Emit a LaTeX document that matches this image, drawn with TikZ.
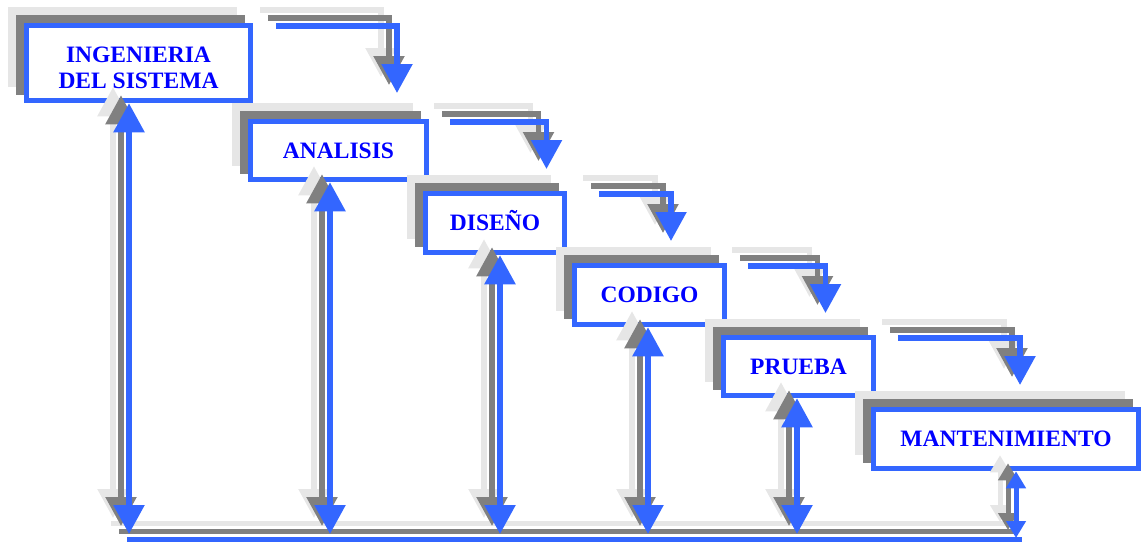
\documentclass[tikz,border=0pt]{standalone}
\usepackage{fontspec}
\setmainfont{Liberation Serif}
\usetikzlibrary{arrows.meta,shadows}

\definecolor{edgeblue}{RGB}{51,102,255}
\definecolor{inkblue}{RGB}{0,0,255}
\definecolor{shadedark}{RGB}{128,128,128}
\definecolor{shadelight}{RGB}{230,230,230}

% each connector is drawn three times: light grey and dark grey copies
% offset up-left, then the blue one on top
\newcommand\stacked[1]{%
  \foreach \off/\col in {16/shadelight,8/shadedark,0/edgeblue}{%
    \begin{scope}[transform canvas={shift={(-\off pt,\off pt)}},color=\col]
      #1
    \end{scope}}}

\tikzset{
  stage/.style={draw=edgeblue, fill=white, line width=5.5pt, inner sep=0pt,
    font=\bfseries\fontsize{23.5}{26}\selectfont, text=inkblue, align=center,
    text height=15.6pt, text depth=0pt,
    general shadow={shadow xshift=-16pt, shadow yshift=16pt,
      fill=shadelight, draw=shadelight},
    general shadow={shadow xshift=-8pt, shadow yshift=8pt,
      fill=shadedark, draw=shadedark}},
  handoff/.style={line width=5.5pt, -{Triangle[width=30pt,length=29pt]}},
  feedback/.style={line width=5.5pt,
    {Triangle[width=30pt,length=29pt]}-{Triangle[width=30pt,length=29pt]}},
  shortfeedback/.style={line width=5pt,
    {Triangle[width=19pt,length=17pt]}-{Triangle[width=19pt,length=17pt]}},
  floorline/.style={line width=5pt},
}

\begin{document}
\begin{tikzpicture}[x=1pt,y=-1pt]
\useasboundingbox (0,0) rectangle (1142,541);

% hand-off points between consecutive stages
\coordinate (s1) at (276,26);    \coordinate (t1) at (397,93);
\coordinate (s2) at (450,122);   \coordinate (t2) at (546.5,169);
\coordinate (s3) at (599,194);   \coordinate (t3) at (671,241);
\coordinate (s4) at (748,266);   \coordinate (t4) at (825.5,313);
\coordinate (s5) at (898,338);   \coordinate (t5) at (1020,385);

% feet of the return arrows and the common return line
\coordinate (v1) at (129,534);
\coordinate (v2) at (330,534);
\coordinate (v3) at (500,534);
\coordinate (v4) at (648,534);
\coordinate (v5) at (797,534);
\coordinate (v6) at (1016,538);
\coordinate (f0) at (127,539.5);
\coordinate (f1) at (1022,539.5);

% stages with the hand-off arrow that follows each one
\node[stage, minimum width=224pt, minimum height=75pt,
      text height=50pt, text depth=0pt] (b1) at (138.5,63)
  {INGENIERIA\\DEL SISTEMA};
\stacked{\draw[handoff] (s1) -| (t1);}

\node[stage, minimum width=176pt, minimum height=58pt] (b2) at (338.5,150.5) {ANALISIS};
\stacked{\draw[handoff] (s2) -| (t2);}

\node[stage, minimum width=139pt, minimum height=59pt] (b3) at (495,223) {DISEÑO};
\stacked{\draw[handoff] (s3) -| (t3);}

\node[stage, minimum width=150pt, minimum height=59pt] (b4) at (649.5,295) {CODIGO};
\stacked{\draw[handoff] (s4) -| (t4);}

\node[stage, minimum width=150pt, minimum height=58pt] (b5) at (798.5,366.5) {PRUEBA};
\stacked{\draw[handoff] (s5) -| (t5);}

\node[stage, minimum width=265pt, minimum height=59pt] (b6) at (1006,439) {MANTENIMIENTO};

% return line along the bottom and the two-way arrows up to every stage
\stacked{\draw[floorline] (f0) -- (f1);}
\stacked{\draw[feedback] (b1.south -| v1) -- (v1);}
\stacked{\draw[feedback] (b2.south -| v2) -- (v2);}
\stacked{\draw[feedback] (b3.south -| v3) -- (v3);}
\stacked{\draw[feedback] (b4.south -| v4) -- (v4);}
\stacked{\draw[feedback] (b5.south -| v5) -- (v5);}
\stacked{\draw[shortfeedback] (b6.south -| v6) -- (v6);}
\end{tikzpicture}
\end{document}
